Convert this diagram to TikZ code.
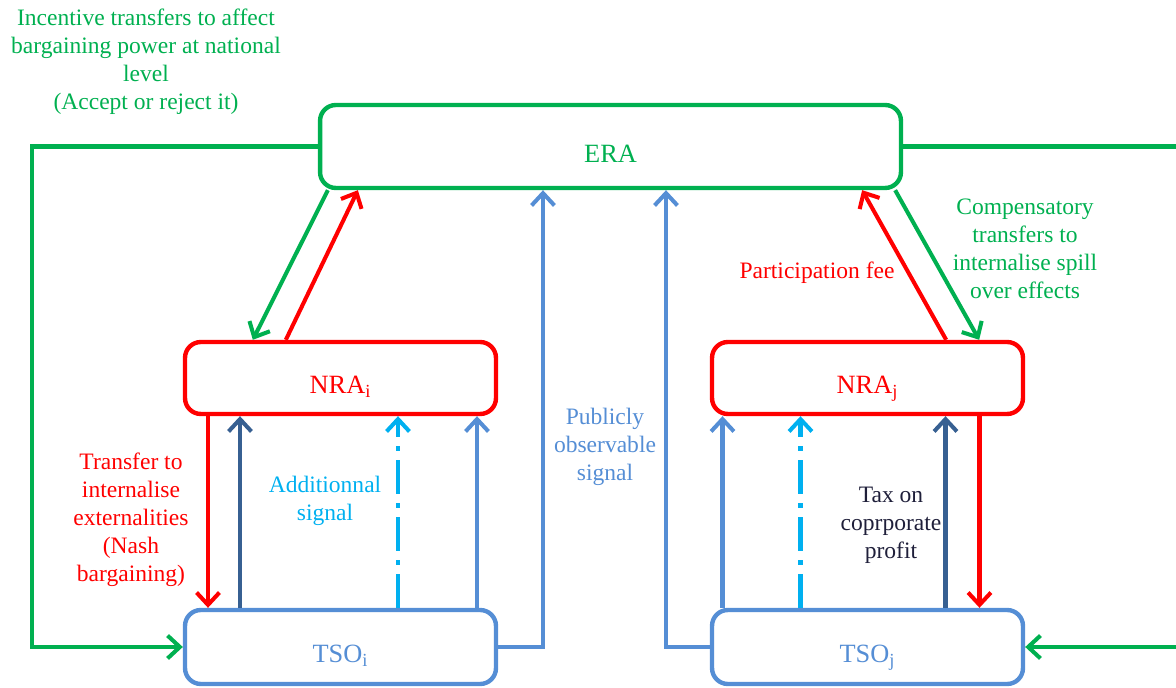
\documentclass[tikz,border=0pt]{standalone}
\usepackage{fontspec}
\setmainfont{Liberation Serif}
\usetikzlibrary{arrows.meta, calc}
\usepackage{xcolor}
\definecolor{eragreen}{HTML}{00B050}
\definecolor{nrared}{HTML}{FF0000}
\definecolor{tsoblue}{HTML}{558ED5}
\definecolor{sigcyan}{HTML}{00B0F0}
\definecolor{taxblue}{HTML}{376092}
\definecolor{taxtext}{HTML}{1F1F3A}

\begin{document}
\begin{tikzpicture}[x=0.02cm, y=-0.02cm,
            font=\fontsize{13.4}{15.9}\selectfont,
            box/.style={rectangle, draw, line width=2.5pt, rounded corners=9pt, fill=white, minimum width=6.22cm, minimum height=1.44cm, text height=18pt, text depth=0pt, font=\fontsize{15}{18}\selectfont},
            era/.style={box, draw=eragreen, text=eragreen, minimum width=11.62cm, minimum height=1.66cm},
            nra/.style={box, draw=nrared, text=nrared},
            tso/.style={box, draw=tsoblue, text=tsoblue, minimum height=1.48cm},
            flow/.style={line width=2.3pt, -{Straight Barb[length=7pt, width=13pt]}},
            sig/.style={flow, draw=sigcyan, dash pattern=on 19pt off 5.5pt on 2.5pt off 5.5pt},
            note/.style={align=center, inner sep=0pt}]

        \useasboundingbox (0,0) rectangle (1176,688);

        \node [era] (era) at (610.5,146.5) {ERA};
        \node [nra] (nrai) at (340.5,378) {NRA\textsubscript{i}};
        \node [nra] (nraj) at (867.5,378) {NRA\textsubscript{j}};
        \node [tso] (tsoi) at (340.5,647) {TSO\textsubscript{i}};
        \node [tso] (tsoj) at (867.5,647) {TSO\textsubscript{j}};

        \coordinate (lft) at (32,0);
        \coordinate (rgt) at (1176,0);
        \coordinate (pubi) at (543,0);
        \coordinate (pubj) at (666,0);

        % ERA to TSOs (incentive transfers)
        \draw[flow, eragreen] (era.west) -- (era.west -| lft) -- (tsoi.west -| lft) -- (tsoi.west);
        \draw[line width=2.3pt, eragreen] (era.east) -- (era.east -| rgt);
        \draw[flow, eragreen] (tsoj.east -| rgt) -- (tsoj.east);

        % ERA and NRAs
        \draw[flow, eragreen] ($(era.south west)+(10,0)$) -- ($(nrai.north west)+(70,0)$);
        \draw[flow, nrared] ($(nrai.north west)+(103,0)$) -- ($(era.south west)+(40,0)$);
        \draw[flow, nrared] ($(nraj.north east)+(-79,0)$) -- ($(era.south east)+(-41,0)$);
        \draw[flow, eragreen] ($(era.south east)+(-8,0)$) -- ($(nraj.north east)+(-46,0)$);

        % TSOs to ERA (public signal)
        \draw[flow, tsoblue] (tsoi.east) -| (pubi |- era.south);
        \draw[flow, tsoblue] (tsoj.west) -| (pubj |- era.south);

        % NRA_i and TSO_i
        \draw[flow, nrared] ($(nrai.south)+(-132.5,0)$) -- ($(tsoi.north)+(-132.5,0)$);
        \draw[flow, taxblue] ($(tsoi.north)+(-100.5,0)$) -- ($(nrai.south)+(-100.5,0)$);
        \draw[sig] ($(tsoi.north)+(57.5,0)$) -- ($(nrai.south)+(57.5,0)$);
        \draw[flow, tsoblue] ($(tsoi.north)+(136.5,0)$) -- ($(nrai.south)+(136.5,0)$);

        % NRA_j and TSO_j
        \draw[flow, tsoblue] ($(tsoj.north)+(-145,0)$) -- ($(nraj.south)+(-145,0)$);
        \draw[sig] ($(tsoj.north)+(-67,0)$) -- ($(nraj.south)+(-67,0)$);
        \draw[flow, taxblue] ($(tsoj.north)+(78,0)$) -- ($(nraj.south)+(78,0)$);
        \draw[flow, nrared] ($(nraj.south)+(112,0)$) -- ($(tsoj.north)+(112,0)$);

        % Labels
        \node[note, text=eragreen] (incentive) at (146,62) {Incentive transfers to affect\\bargaining power at national\\level\\(Accept or reject it)};
        \node[note, text=eragreen] (compens) at (1025,248.5) {Compensatory\\transfers to\\internalise spill\\over effects};
        \node[note, text=nrared] (partfee) at (817,273) {Participation fee};
        \node[note, text=nrared] (transfer) at (131,520) {Transfer to\\internalise\\externalities\\(Nash\\bargaining)};
        \node[note, text=sigcyan] (addsig) at (325,501) {Additionnal\\signal};
        \node[note, text=tsoblue] (pubsig) at (605,447) {Publicly\\observable\\signal};
        \node[note, text=taxtext] (tax) at (891,525) {Tax on\\coprporate\\profit};

    \end{tikzpicture}
\end{document}
